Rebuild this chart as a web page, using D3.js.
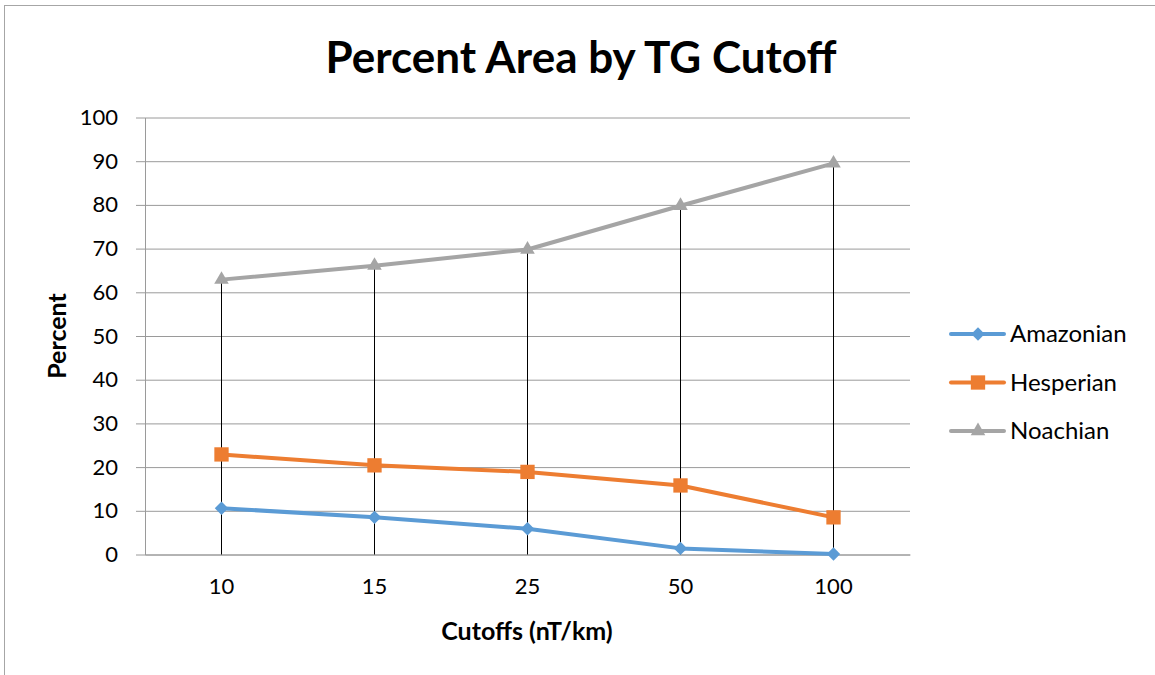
<!DOCTYPE html>
<html>
<head>
<meta charset="utf-8">
<script src="https://cdn.jsdelivr.net/npm/d3@7"></script>
<style>
  html, body { margin: 0; padding: 0; background: #fff; }
  svg { display: block; font-family: Lato, "Open Sans", sans-serif; }
</style>
</head>
<body>
<svg id="chart" width="1155" height="675"></svg>
<script>
// Cutoff categories (nT/km) and percent area per geologic epoch
const cutoffs = ["10", "15", "25", "50", "100"];
const amazonian = [10.6, 8.5, 5.9, 1.4, 0.1];
const hesperian = [22.9, 20.4, 18.9, 15.8, 8.5];
const noachian = [62.9, 66.1, 69.8, 79.8, 89.5];
const yTicks = [0, 10, 20, 30, 40, 50, 60, 70, 80, 90, 100];

// square turned 45 degrees, equal width and height
const diamond = {
  draw(ctx, size) {
    const r = Math.sqrt(size / 2);
    ctx.moveTo(0, -r); ctx.lineTo(r, 0); ctx.lineTo(0, r); ctx.lineTo(-r, 0); ctx.closePath();
  }
};

const series = [
  { name: "Amazonian", values: amazonian, color: "#5B9BD5", symbol: diamond, size: 90 },
  { name: "Hesperian", values: hesperian, color: "#ED7D31", symbol: d3.symbolSquare, size: 205 },
  { name: "Noachian", values: noachian, color: "#A5A5A5", symbol: d3.symbolTriangle, size: 92 }
];

const svg = d3.select("#chart");
const plot = { left: 145, right: 910, top: 117.5, bottom: 554.5 };
const gridColor = "#9A9A9A";

const x = d3.scaleBand().domain(cutoffs).range([plot.left, plot.right]);
const y = d3.scaleLinear().domain([0, 100]).range([plot.bottom, plot.top]);
const cx = c => x(c) + x.bandwidth() / 2;

// outer chart border
svg.append("rect")
  .attr("x", 4.5).attr("y", 5.5).attr("width", 1160).attr("height", 700)
  .attr("fill", "none").attr("stroke", "#A6A6A6").attr("stroke-width", 1);

// horizontal gridlines with short ticks left of the value axis
const yAxis = d3.axisLeft(y).tickValues(yTicks)
  .tickSize(-(plot.right - plot.left)).tickSizeOuter(0).tickPadding(27);
const gy = svg.append("g").attr("transform", `translate(${plot.left},0)`).call(yAxis);
gy.select(".domain").attr("stroke", gridColor);
gy.selectAll(".tick line").attr("stroke", gridColor).attr("x1", -9);
gy.selectAll(".tick text").attr("fill", "#000").attr("font-size", 22)
  .attr("font-family", "Lato, 'Open Sans', sans-serif");

// category axis along the bottom
const xAxis = d3.axisBottom(x).tickSize(0).tickPadding(24);
const gx = svg.append("g").attr("transform", `translate(0,${plot.bottom})`).call(xAxis);
gx.select(".domain").attr("stroke", gridColor);
gx.selectAll(".tick text").attr("fill", "#000").attr("font-size", 22)
  .attr("font-family", "Lato, 'Open Sans', sans-serif");

// drop lines from the highest point of each category down to the axis
svg.append("g").selectAll("line")
  .data(cutoffs)
  .join("line")
  .attr("x1", d => cx(d)).attr("x2", d => cx(d))
  .attr("y1", (d, i) => y(d3.max(series, s => s.values[i])))
  .attr("y2", y(0))
  .attr("stroke", "#000").attr("stroke-width", 1);

// series lines and markers
const line = d3.line().x((d, i) => cx(cutoffs[i])).y(d => y(d));
series.forEach(s => {
  svg.append("path")
    .attr("d", line(s.values))
    .attr("fill", "none").attr("stroke", s.color)
    .attr("stroke-width", 4).attr("stroke-linejoin", "round").attr("stroke-linecap", "round");
  svg.append("g").selectAll("path")
    .data(s.values)
    .join("path")
    .attr("transform", (d, i) => `translate(${cx(cutoffs[i])},${y(d)})`)
    .attr("d", d3.symbol().type(s.symbol).size(s.size))
    .attr("fill", s.color);
});

// title and axis titles
svg.append("text")
  .attr("x", 581).attr("y", 73).attr("text-anchor", "middle")
  .attr("font-size", 44).attr("font-weight", "bold").attr("fill", "#000")
  .text("Percent Area by TG Cutoff");

svg.append("text")
  .attr("x", 527).attr("y", 640).attr("text-anchor", "middle")
  .attr("font-size", 25).attr("font-weight", "bold").attr("fill", "#000")
  .text("Cutoffs (nT/km)");

svg.append("text")
  .attr("transform", `translate(66,${(plot.top + plot.bottom) / 2}) rotate(-90)`)
  .attr("text-anchor", "middle")
  .attr("font-size", 25).attr("font-weight", "bold").attr("fill", "#000")
  .text("Percent");

// legend
const legend = svg.append("g").selectAll("g")
  .data(series)
  .join("g")
  .attr("transform", (d, i) => `translate(951,${334 + i * 48.5})`);
legend.append("line")
  .attr("x1", 0).attr("x2", 53).attr("y1", 0).attr("y2", 0)
  .attr("stroke", d => d.color).attr("stroke-width", 4).attr("stroke-linecap", "round");
legend.append("path")
  .attr("transform", "translate(27,0)")
  .attr("d", d => d3.symbol().type(d.symbol).size(d.size)())
  .attr("fill", d => d.color);
legend.append("text")
  .attr("x", 59).attr("y", 0).attr("dy", "0.35em")
  .attr("font-size", 24).attr("fill", "#000")
  .text(d => d.name);
</script>
</body>
</html>
